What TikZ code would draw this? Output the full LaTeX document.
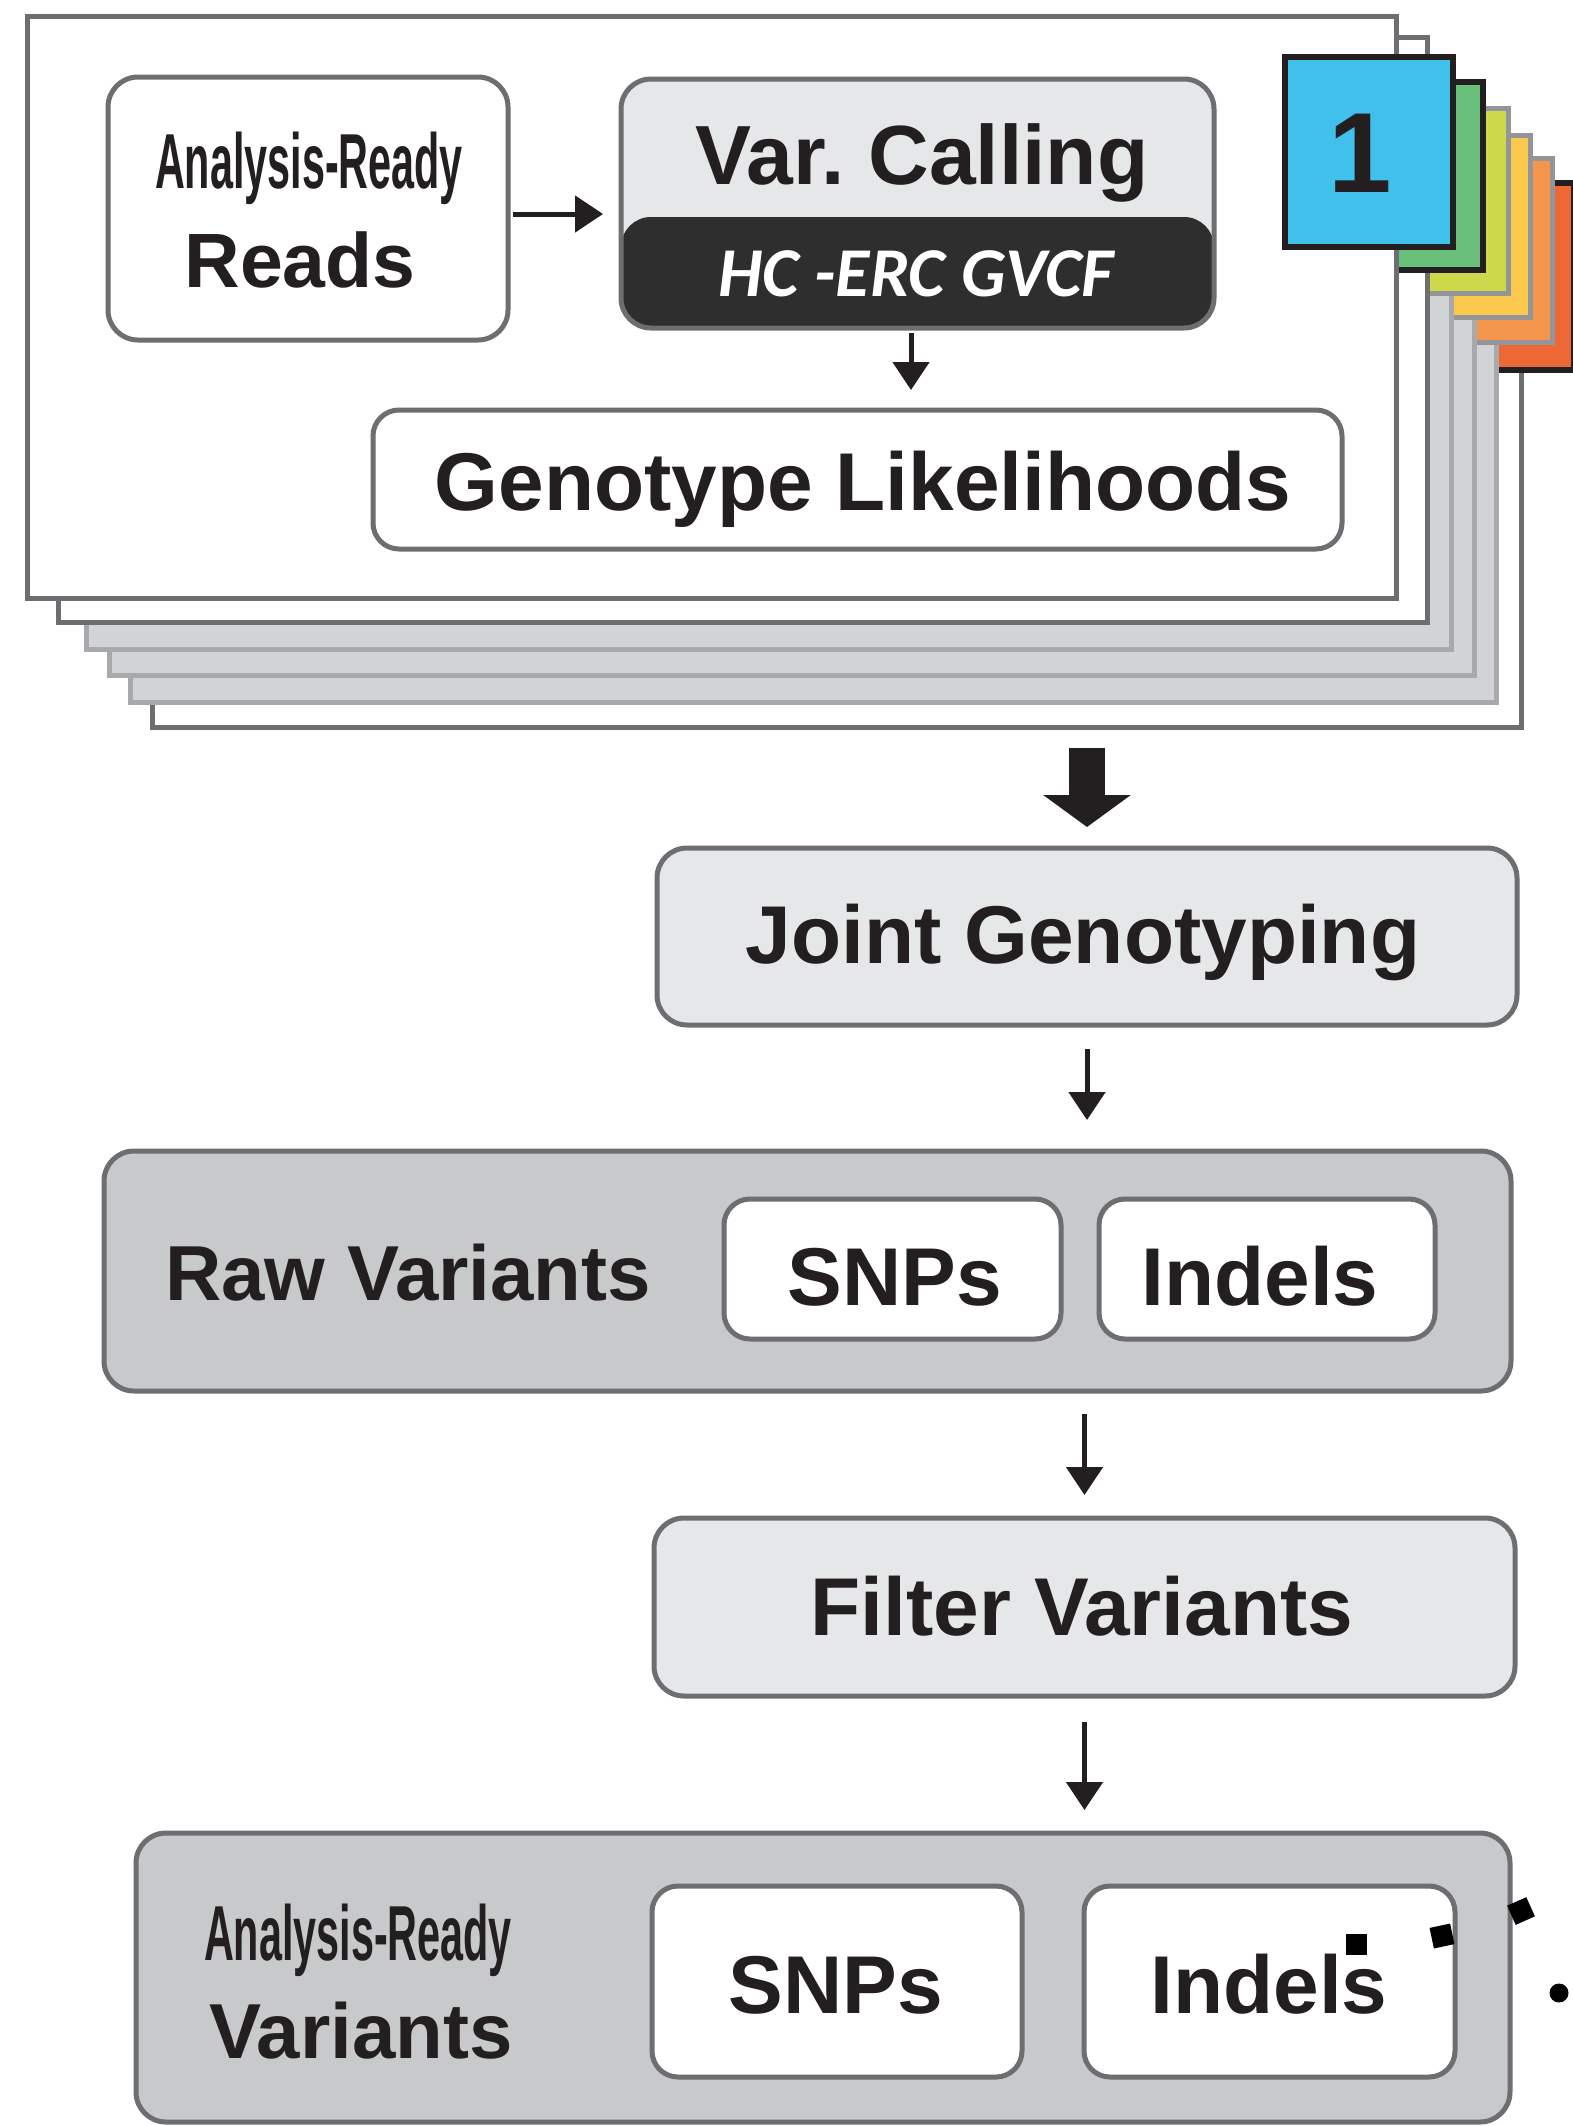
\documentclass[tikz,border=0pt]{standalone}
\usepackage{graphicx}
\usepackage{fontspec}
\setmainfont{Liberation Sans}
\newfontfamily\toolfont{Carlito}
\usetikzlibrary{arrows.meta}

\definecolor{edgegray}{HTML}{6D6E71}
\definecolor{lightfill}{HTML}{E6E7E8}
\definecolor{midfill}{HTML}{C8C9CA}
\definecolor{darkband}{HTML}{2E2E2E}
\definecolor{sheetgray}{HTML}{D1D3D4}
\definecolor{sheetedge}{HTML}{A7A9AC}
\definecolor{tabblue}{HTML}{3FC1EB}
\definecolor{tabgreen}{HTML}{6ABF7A}
\definecolor{tablime}{HTML}{CDD84A}
\definecolor{tabyellow}{HTML}{F9C84C}
\definecolor{taborange}{HTML}{F4964B}
\definecolor{tabred}{HTML}{EC6835}
\definecolor{tabdark}{HTML}{231F20}
\definecolor{tabedge}{HTML}{939598}
\definecolor{ink}{HTML}{231F20}

\tikzset{
  every node/.style={inner sep=0pt, outer sep=0pt},
  sized/.style 2 args={minimum width=#1pt, minimum height=#2pt},
  sheet/.style={rectangle, draw=edgegray, line width=5pt, fill=white},
  graysheet/.style={rectangle, draw=sheetedge, line width=5pt, fill=sheetgray},
  flag/.style={rectangle, draw=tabdark, line width=5.5pt},
  softflag/.style={rectangle, draw=tabedge, line width=5pt},
  stepbox/.style={rectangle, draw=edgegray, line width=5pt, rounded corners=30pt},
  chip/.style={rectangle, draw=edgegray, line width=5pt, rounded corners=26pt, fill=white},
  txt/.style={anchor=base, text=ink, font=\bfseries\fontsize{82}{90}\selectfont},
  condensed/.style={anchor=base, text=ink, font=\bfseries\fontsize{78}{80}\selectfont},
  arr/.style={line width=5pt, draw=ink, -{Triangle[length=28pt,width=36pt]}},
  bigarr/.style={line width=36pt, draw=ink, -{Triangle[length=32pt,width=86pt]}},
}

\begin{document}
\frenchspacing
\begin{tikzpicture}[x=1pt, y=-1pt]
\useasboundingbox (0,0) rectangle (1573,2126);

% stacked per-sample sheets, back to front, each carrying its coloured flag
\node[sheet, sized={1369}{584}] (page6) at (836.5,435) {};
\node[flag, fill=tabred, sized={168}{187}] (flag6) at (1490,276.5) {};
\node[graysheet, sized={1366}{584}] (page5) at (813,410) {};
\node[softflag, fill=taborange, sized={168}{184}] (flag5) at (1468,250) {};
\node[graysheet, sized={1365}{584}] (page4) at (791.5,383) {};
\node[softflag, fill=tabyellow, sized={168}{182}] (flag4) at (1446,226) {};
\node[graysheet, sized={1365}{584}] (page3) at (768.5,357) {};
\node[softflag, fill=tablime, sized={168}{185}] (flag3) at (1424,200.5) {};
\node[sheet, sized={1369}{585}] (page2) at (742.5,329.5) {};
\node[flag, fill=tabgreen, sized={168}{188}] (flag2) at (1399,176) {};
\node[sheet, sized={1369}{582}] (page1) at (711.5,307) {};
\node[flag, fill=tabblue, sized={168}{190}] (flag1) at (1369,152) {};
\node[text=ink, font=\bfseries\fontsize{114}{120}\selectfont] (flagnum) at (1360,153) {1};

% per-sample steps
\node[stepbox, fill=white, sized={400}{263}] (reads) at (308,208.5) {};
\node[condensed] (readsA) at (309,188) {\scalebox{0.53}[1]{Analysis-Ready}};
\node[txt, font=\bfseries\fontsize{77}{80}\selectfont] (readsB) at (300,287) {Reads};

\node[stepbox, fill=lightfill, sized={593}{249},
      path picture={\fill[darkband] (path picture bounding box.south west)
        rectangle ([yshift=111pt]path picture bounding box.south east);}] (var) at (917.5,203.5) {};
\node[txt, font=\bfseries\fontsize{84}{90}\selectfont] (varname) at (922,184) {Var. Calling};
\node[txt, text=white, font=\toolfont\bfseries\itshape\fontsize{70}{72}\selectfont] (vartool) at (916,296) {HC -ERC GVCF};

\node[chip, sized={969}{139}] (geno) at (857.5,479.5) {};
\node[txt] (genoname) at (863,510) {Genotype Likelihoods};

\coordinate (rowy) at (0,214);
\draw[arr, shorten <=5pt, shorten >=18pt] (reads.east |- rowy) -- (var.west |- rowy);
\coordinate (colx) at (911,0);
\draw[arr, shorten <=5pt, shorten >=20pt] (var.south -| colx) -- (geno.north -| colx);

% cohort steps
\node[stepbox, fill=lightfill, sized={860}{177}] (joint) at (1087,936.5) {};
\node[txt] (jointname) at (1083,963) {Joint Genotyping};
\draw[bigarr, shorten <=21pt, shorten >=21pt] (page6.south -| joint.north) -- (joint.north);

\node[stepbox, fill=midfill, sized={1407}{240}] (raw) at (807.5,1271) {};
\node[txt, font=\bfseries\fontsize{78}{80}\selectfont] (rawname) at (408,1300) {Raw Variants};
\node[chip, sized={337}{140}] (rawsnp) at (892.5,1269) {};
\node[txt] (rawsnpname) at (895,1305) {SNPs};
\node[chip, sized={336}{140}] (rawindel) at (1267,1269) {};
\node[txt] (rawindelname) at (1260,1305) {Indels};
\draw[arr, shorten <=24pt, shorten >=31pt] (joint.south) -- (joint.south |- raw.north);

\node[stepbox, fill=lightfill, sized={861}{178}] (filter) at (1084.5,1607) {};
\node[txt] (filtername) at (1082,1635) {Filter Variants};
\draw[arr, shorten <=23pt, shorten >=23pt] (raw.south -| filter.north) -- (filter.north);

\node[stepbox, fill=midfill, sized={1374}{289}] (final) at (823,1977.5) {};
\node[condensed] (finalA) at (358,1960) {\scalebox{0.53}[1]{Analysis-Ready}};
\node[txt, font=\bfseries\fontsize{78}{80}\selectfont] (finalB) at (361,2058) {Variants};
\node[chip, sized={370}{191}] (finalsnp) at (837,1981.5) {};
\node[txt] (finalsnpname) at (836,2013) {SNPs};
\node[chip, sized={371}{191}] (finalindel) at (1269.5,1981.5) {};
\node[txt] (finalindelname) at (1269,2013) {Indels};
\draw[arr, shorten <=26pt, shorten >=23pt] (filter.south) -- (filter.south |- final.north);

% small black marks near the last box
\fill[black] (1345.5,1933.5) rectangle (1366.5,1954.5);
\fill[black, rotate around={12:(1442,1936)}] (1431.5,1925.5) rectangle (1452.5,1946.5);
\fill[black, rotate around={24:(1521,1911)}] (1510.5,1900.5) rectangle (1531.5,1921.5);
\fill[black] (1559,1993) circle (9.5pt);
\end{tikzpicture}
\end{document}
